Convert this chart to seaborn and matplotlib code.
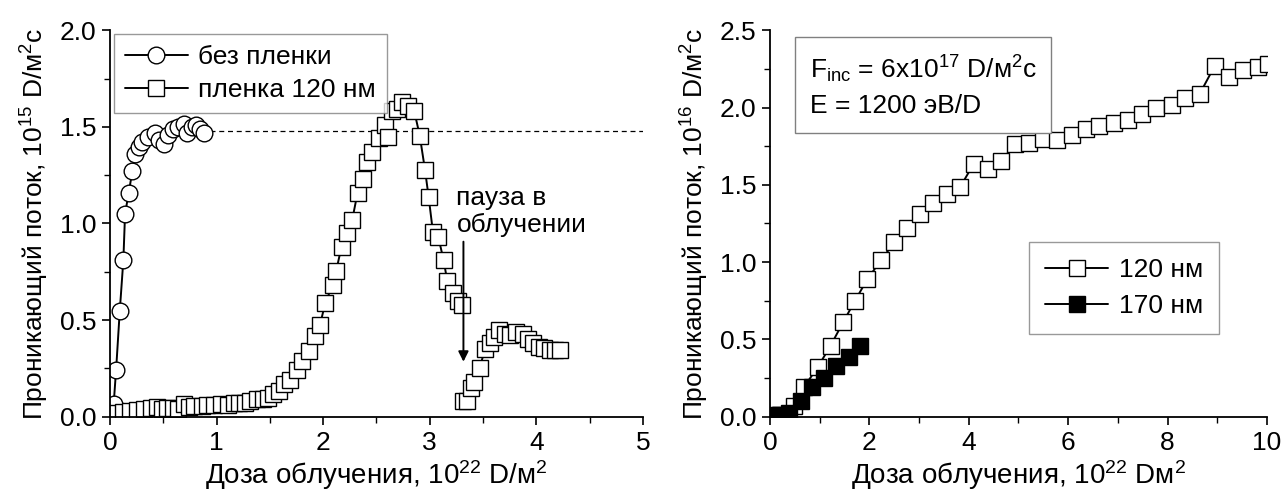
import numpy as np
import pandas as pd
import seaborn as sns
import matplotlib
matplotlib.use("Agg")
import matplotlib.pyplot as plt

# ---- Daten: linkes Diagramm ----
ohne_x = [0.034, 0.057, 0.091, 0.125, 0.141, 0.175, 0.209, 0.236, 0.27, 0.303, 0.354,
          0.42, 0.455, 0.505, 0.54, 0.59, 0.64, 0.69, 0.72, 0.77, 0.81, 0.84, 0.88]
ohne_y = [0.064, 0.244, 0.545, 0.811, 1.05, 1.158, 1.27, 1.36, 1.395, 1.42, 1.447,
          1.47, 1.43, 1.41, 1.46, 1.49, 1.50, 1.515, 1.47, 1.50, 1.51, 1.49, 1.47]

film_x = [0.05, 0.118, 0.185, 0.253, 0.32, 0.387, 0.438, 0.488, 0.539, 0.589, 0.64, 0.69,
          0.74, 0.791, 0.859, 0.909, 0.976, 1.044, 1.111, 1.162, 1.212, 1.263, 1.313, 1.38,
          1.431, 1.481, 1.532, 1.582, 1.633, 1.684, 1.751, 1.801, 1.869, 1.919, 1.97, 2.02,
          2.088, 2.121, 2.172, 2.222, 2.273, 2.323, 2.374, 2.407, 2.458, 2.525, 2.576, 2.609,
          2.643, 2.694, 2.744, 2.795, 2.855, 2.906, 2.956, 2.99, 3.03, 3.08, 3.13, 3.165,
          3.215, 3.266, 3.30]
film_y = [0.02, 0.026, 0.029, 0.034, 0.041, 0.046, 0.052, 0.041, 0.045, 0.046, 0.041, 0.064,
          0.052, 0.055, 0.055, 0.058, 0.058, 0.064, 0.058, 0.069, 0.069, 0.072, 0.081, 0.089,
          0.093, 0.098, 0.115, 0.132, 0.167, 0.192, 0.244, 0.287, 0.339, 0.416, 0.476, 0.588,
          0.682, 0.752, 0.88, 0.95, 1.02, 1.16, 1.23, 1.32, 1.37, 1.44, 1.51, 1.45,
          1.58, 1.59, 1.63, 1.61, 1.58, 1.455, 1.275, 1.135, 0.955, 0.93, 0.81, 0.70,
          0.64, 0.60, 0.579]
# nach der Pause
pause_x = [3.316, 3.35, 3.384, 3.418, 3.468, 3.519, 3.569, 3.603, 3.653, 3.704, 3.754,
           3.805, 3.872, 3.923, 3.973, 4.024, 4.074, 4.125, 4.175, 4.226]
pause_y = [0.083, 0.083, 0.15, 0.18, 0.254, 0.348, 0.38, 0.412, 0.45, 0.43, 0.425,
           0.44, 0.43, 0.40, 0.38, 0.36, 0.355, 0.347, 0.347, 0.344]

niveau = 1.478

# ---- Daten: rechtes Diagramm ----
nm120_x = [0.2, 0.48, 0.68, 0.96, 1.22, 1.47, 1.71, 1.96, 2.24, 2.5, 2.76, 3.02, 3.29, 3.57,
           3.83, 4.10, 4.38, 4.65, 4.94, 5.22, 5.49, 5.77, 6.07, 6.35, 6.63, 6.92, 7.21,
           7.49, 7.77, 8.08, 8.35, 8.65, 8.95, 9.23, 9.52, 9.82, 10.02]
nm120_y = [0.01, 0.07, 0.19, 0.32, 0.46, 0.61, 0.75, 0.89, 1.015, 1.127, 1.219, 1.309, 1.38,
           1.44, 1.487, 1.637, 1.605, 1.657, 1.762, 1.773, 1.794, 1.788, 1.822, 1.861, 1.882,
           1.903, 1.918, 1.955, 1.996, 2.017, 2.06, 2.09, 2.27, 2.20, 2.24, 2.26, 2.28]
nm170_x = [0.05, 0.2, 0.38, 0.62, 0.84, 1.08, 1.32, 1.58, 1.82]
nm170_y = [0.01, 0.01, 0.025, 0.103, 0.189, 0.253, 0.328, 0.388, 0.457]

sns.set_theme(style="ticks")
plt.rcParams["font.family"] = ["Liberation Sans", "DejaVu Sans"]
plt.rcParams["mathtext.fontset"] = "custom"
plt.rcParams["mathtext.rm"] = "Liberation Sans"
plt.rcParams["mathtext.it"] = "Liberation Sans:italic"
plt.rcParams["mathtext.default"] = "regular"
for k in ("text.color", "axes.labelcolor", "xtick.color", "ytick.color", "axes.edgecolor"):
    plt.rcParams[k] = "black"

fs_tick = 19
fs_x = 20
fs_y = 19
fs_txt = 19
fig = plt.figure(figsize=(12.84, 4.96), dpi=100)
ax1 = fig.add_axes([0.0857, 0.16, 0.415, 0.779])
ax2 = fig.add_axes([0.5997, 0.16, 0.387, 0.779])

stil = dict(color="black", linewidth=1.4, markeredgecolor="black", markeredgewidth=1.0,
            estimator=None, sort=False)

# links
sns.lineplot(x=ohne_x, y=ohne_y, marker="o", markerfacecolor="white", markersize=12,
             ax=ax1, label="без пленки", **stil)
sns.lineplot(x=film_x, y=film_y, marker="s", markerfacecolor="white", markersize=11,
             ax=ax1, label="пленка 120 нм", **stil)
sns.lineplot(x=pause_x, y=pause_y, marker="s", markerfacecolor="white", markersize=11,
             ax=ax1, **stil)
ax1.plot([0.94, 5.0], [niveau, niveau], color="black", linestyle=(0, (4, 3)), linewidth=0.9,
         zorder=1)
ax1.annotate("", xy=(3.316, 0.27), xytext=(3.316, 0.92),
             arrowprops=dict(arrowstyle="-|>", color="black", lw=1.4, mutation_scale=15))
ax1.text(3.25, 1.06, "пауза в\nоблучении", fontsize=fs_txt, ha="left", va="center",
         linespacing=1.15)

ax1.set_xlim(0, 5)
ax1.set_ylim(0, 2.0)
ax1.set_xticks([0, 1, 2, 3, 4, 5])
ax1.set_xticks(np.arange(0.5, 5, 1.0), minor=True)
ax1.set_yticks([0.0, 0.5, 1.0, 1.5, 2.0])
ax1.set_yticks([0.25, 0.75, 1.25, 1.75], minor=True)
ax1.set_yticklabels(["0.0", "0.5", "1.0", "1.5", "2.0"])
ax1.set_xlabel("Доза облучения, 10$^{22}$ D/м$^2$", fontsize=fs_x, labelpad=3)
ax1.set_ylabel("Проникающий поток, 10$^{15}$ D/м$^2$c", fontsize=fs_y, labelpad=6)
leg1 = ax1.legend(loc="upper left", bbox_to_anchor=(0.0, 1.0), fontsize=fs_txt, frameon=True,
                  fancybox=False, edgecolor="gray", handlelength=2.4, borderpad=0.4,
                  labelspacing=0.35, handletextpad=0.4, borderaxespad=0.15)
leg1.get_frame().set_linewidth(1.0)

# rechts
sns.lineplot(x=nm120_x, y=nm120_y, marker="s", markerfacecolor="white", markersize=11,
             ax=ax2, label="120 нм", **stil)
sns.lineplot(x=nm170_x, y=nm170_y, marker="s", markerfacecolor="black", markersize=11,
             ax=ax2, label="170 нм", **stil)
ax2.text(0.08, 0.94, "F$_{inc}$ = 6x10$^{17}$ D/м$^2$c\nE = 1200 эВ/D", transform=ax2.transAxes,
         fontsize=fs_txt, ha="left", va="top", linespacing=1.5,
         bbox=dict(boxstyle="square,pad=0.55", facecolor="white", edgecolor="gray", linewidth=1.0))
ax2.set_xlim(0, 10)
ax2.set_ylim(0, 2.5)
ax2.set_xticks([0, 2, 4, 6, 8, 10])
ax2.set_xticks([1, 3, 5, 7, 9], minor=True)
ax2.set_yticks([0.0, 0.5, 1.0, 1.5, 2.0, 2.5])
ax2.set_yticks([0.25, 0.75, 1.25, 1.75, 2.25], minor=True)
ax2.set_yticklabels(["0.0", "0.5", "1.0", "1.5", "2.0", "2.5"])
ax2.set_xlabel("Доза облучения, 10$^{22}$ Dм$^2$", fontsize=fs_x, labelpad=3)
ax2.set_ylabel("Проникающий поток, 10$^{16}$ D/м$^2$c", fontsize=fs_y, labelpad=6)
leg2 = ax2.legend(loc="lower right", bbox_to_anchor=(0.93, 0.18), fontsize=fs_txt, frameon=True,
                  fancybox=False, edgecolor="gray", handlelength=2.4, borderpad=0.6,
                  labelspacing=0.45, handletextpad=0.4)
leg2.get_frame().set_linewidth(1.0)

for ax in (ax1, ax2):
    sns.despine(ax=ax)
    for s in ("left", "bottom"):
        ax.spines[s].set_linewidth(1.3)
        ax.spines[s].set_color("black")
    ax.tick_params(axis="both", which="major", labelsize=fs_tick, direction="out", length=6,
                   width=1.2, color="black", labelcolor="black", pad=4)
    ax.tick_params(axis="both", which="minor", direction="out", length=4, width=1.0,
                   color="black")

fig.savefig("out.png", dpi=100)
